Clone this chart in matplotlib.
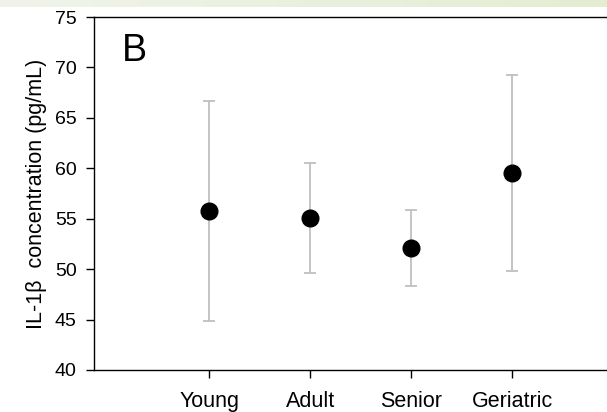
import numpy as np
import matplotlib.pyplot as plt
from matplotlib.colors import LinearSegmentedColormap

groups = ['Young', 'Adult', 'Senior', 'Geriatric']
means = [55.8, 55.1, 52.1, 59.5]
sd = [10.9, 5.45, 3.8, 9.7]

plt.rcParams['font.family'] = ['Liberation Sans', 'DejaVu Sans']

fig = plt.figure(figsize=(6.07, 4.12), dpi=100)

# faint green slide strip along the top edge
strip = fig.add_axes([0, 1 - 7 / 412, 1, 7 / 412])
grad = np.linspace(0, 1, 256).reshape(1, -1)
cmap = LinearSegmentedColormap.from_list('slide', ['#f1f3ea', '#e4edd2'])
strip.imshow(grad, aspect='auto', cmap=cmap)
strip.axis('off')

ax = fig.add_axes([94 / 607, 42 / 412, 513 / 607, 353 / 412])
x = np.arange(1, len(groups) + 1)
ax.errorbar(x, means, yerr=sd, fmt='o', color='black', markersize=12,
            ecolor='#bfbfbf', elinewidth=1.3, capsize=4, capthick=1.3, zorder=3)

ax.set_xlim(-0.14, 4.94)
ax.set_ylim(40, 75)
ax.set_yticks(range(40, 76, 5))
ax.set_xticks(x)
ax.set_xticklabels(groups)
ax.spines['right'].set_visible(False)
for s in ['left', 'bottom', 'top']:
    ax.spines[s].set_linewidth(1.0)
ax.tick_params(axis='y', direction='out', length=5.5, width=1, pad=7, labelsize=14)
ax.tick_params(axis='x', direction='out', length=5.5, width=1, pad=9.5, labelsize=15.5)
ax.set_ylabel('IL-1\u03b2  concentration (pg/mL)', fontsize=15.5)
ax.yaxis.set_label_coords(-47 / 513, 0.5)
ax.text(0.055, 0.955, 'B', transform=ax.transAxes, fontsize=27, va='top', ha='left')

fig.savefig('out.png', dpi=100)
